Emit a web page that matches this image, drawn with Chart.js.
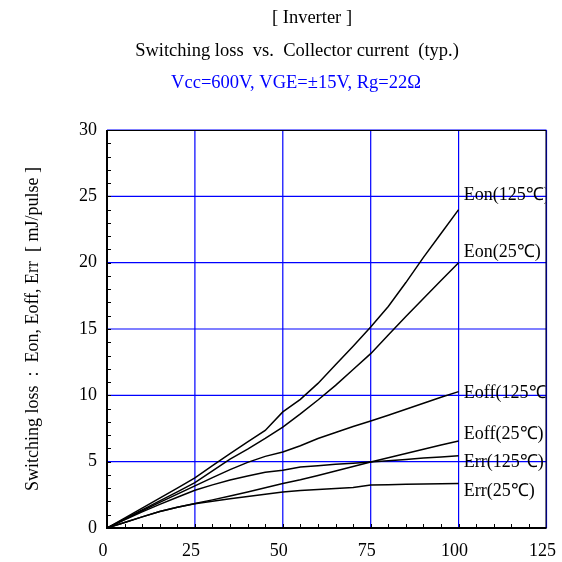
<!DOCTYPE html>
<html>
<head>
<meta charset="utf-8">
<script src="https://cdn.jsdelivr.net/npm/chart.js@4.4.1/dist/chart.umd.min.js"></script>
<style>
  html, body { margin: 0; padding: 0; background: #fff; }
  #wrap { width: 562px; height: 562px; }
</style>
</head>
<body>
<div id="wrap"><canvas id="lossChart"></canvas></div>
<script>
// Collector current [A]
const current = [0, 5, 10, 15, 20, 25, 30, 35, 40, 45, 50, 55, 60, 65, 70, 75, 80, 85, 90, 95, 100];

// Switching loss [mJ/pulse]
const eon125  = [0, 0.75, 1.5, 2.25, 3.0, 3.77, 4.7, 5.6, 6.5, 7.35, 8.75, 9.7, 10.9, 12.3, 13.7, 15.15, 16.7, 18.5, 20.4, 22.2, 24.0];
const eon25   = [0, 0.68, 1.36, 2.04, 2.72, 3.42, 4.3, 5.2, 5.95, 6.75, 7.61, 8.6, 9.65, 10.75, 11.95, 13.14, 14.55, 15.95, 17.3, 18.65, 20.0];
const eoff125 = [0, 0.65, 1.3, 1.93, 2.55, 3.17, 3.8, 4.4, 4.95, 5.4, 5.73, 6.2, 6.75, 7.2, 7.65, 8.06, 8.5, 8.95, 9.4, 9.85, 10.28];
const eoff25  = [0, 0.42, 0.84, 1.24, 1.56, 1.84, 2.12, 2.42, 2.72, 3.03, 3.35, 3.63, 3.95, 4.3, 4.63, 4.97, 5.3, 5.62, 5.94, 6.25, 6.55];
const err125  = [0, 0.62, 1.22, 1.78, 2.32, 2.84, 3.25, 3.62, 3.92, 4.2, 4.35, 4.6, 4.7, 4.8, 4.88, 4.97, 5.07, 5.17, 5.27, 5.36, 5.45];
const err25   = [0, 0.42, 0.84, 1.24, 1.56, 1.82, 2.02, 2.2, 2.38, 2.55, 2.71, 2.82, 2.9, 2.98, 3.06, 3.24, 3.26, 3.29, 3.31, 3.34, 3.36];

const seriesNames = ["Eon(125℃)", "Eon(25℃)", "Eoff(125℃)", "Eoff(25℃)", "Err(125℃)", "Err(25℃)"];
const seriesData = [eon125, eon25, eoff125, eoff25, err125, err25];

// where each curve name sits (value coords)
const labelY = [25.05, 20.8, 10.15, 7.05, 4.95, 2.75];
const labelX = 101.5;

const FONT = "'Liberation Serif', 'Times New Roman', serif";
const BLUE = "#0000ff";

const decorations = {
  id: "decorations",
  beforeDatasetsDraw(chart) {
    const { ctx, chartArea: a, scales: { x, y } } = chart;
    ctx.save();
    ctx.strokeStyle = BLUE;
    ctx.lineWidth = 1.2;
    ctx.beginPath();
    x.ticks.forEach(t => {
      const px = x.getPixelForValue(t.value);
      ctx.moveTo(px, a.top);
      ctx.lineTo(px, a.bottom);
    });
    y.ticks.forEach(t => {
      const py = y.getPixelForValue(t.value);
      ctx.moveTo(a.left, py);
      ctx.lineTo(a.right, py);
    });
    ctx.stroke();
    ctx.restore();
  },
  afterDatasetsDraw(chart) {
    const { ctx, chartArea: a, scales: { x, y } } = chart;
    ctx.save();

    // frame
    ctx.strokeStyle = "#000";
    ctx.lineWidth = 1;
    ctx.beginPath();
    ctx.moveTo(a.left, a.top + 0.5);
    ctx.lineTo(a.right - 0.5, a.top + 0.5);
    ctx.lineTo(a.right - 0.5, a.bottom);
    ctx.stroke();
    ctx.lineWidth = 2;
    ctx.beginPath();
    ctx.moveTo(a.left, a.top);
    ctx.lineTo(a.left, a.bottom);
    ctx.lineTo(a.right, a.bottom);
    ctx.stroke();

    // minor ticks pointing inwards
    ctx.lineWidth = 1;
    ctx.beginPath();
    for (let v = 1; v < 30; v++) {
      const py = Math.round(y.getPixelForValue(v)) + 0.5;
      ctx.moveTo(a.left, py);
      ctx.lineTo(a.left + 4, py);
    }
    for (let v = 5; v < 125; v += 5) {
      const px = Math.round(x.getPixelForValue(v)) + 0.5;
      ctx.moveTo(px, a.bottom);
      ctx.lineTo(px, a.bottom - 4);
    }
    ctx.stroke();

    // curve names, cut off by the right frame
    ctx.save();
    ctx.beginPath();
    ctx.rect(0, 0, a.right - 1, chart.height);
    ctx.clip();
    ctx.fillStyle = "#000";
    ctx.font = "18px " + FONT;
    ctx.textAlign = "left";
    ctx.textBaseline = "middle";
    seriesNames.forEach((name, i) => {
      ctx.fillText(name, x.getPixelForValue(labelX), y.getPixelForValue(labelY[i]));
    });
    ctx.restore();

    // headings
    ctx.textAlign = "center";
    ctx.textBaseline = "middle";
    ctx.font = "18.5px " + FONT;
    ctx.fillStyle = "#000";
    ctx.fillText("[ Inverter ]", 312, 18);
    ctx.fillText("Switching loss  vs.  Collector current  (typ.)", 297, 51);
    ctx.fillStyle = BLUE;
    ctx.fillText("Vcc=600V, VGE=±15V, Rg=22Ω", 296, 83);

    // y axis title
    ctx.fillStyle = "#000";
    ctx.font = "18px " + FONT;
    ctx.translate(33, (a.top + a.bottom) / 2);
    ctx.rotate(-Math.PI / 2);
    ctx.fillText("Switching loss  :  Eon, Eoff, Err  [ mJ/pulse ]", 0, 0);

    ctx.restore();
  }
};

const ctx = document.getElementById("lossChart").getContext("2d");
new Chart(ctx, {
  type: "scatter",
  data: {
    datasets: seriesData.map((vals, i) => ({
      label: seriesNames[i],
      data: current.map((c, j) => ({ x: c, y: vals[j] })),
      showLine: true,
      borderColor: "#000",
      borderWidth: 1.5,
      pointRadius: 0,
      tension: 0,
    })),
  },
  options: {
    responsive: true,
    maintainAspectRatio: false,
    animation: false,
    layout: { padding: { top: 130, right: 15.5, left: 0, bottom: 0 } },
    plugins: {
      legend: { display: false },
      tooltip: { enabled: false },
    },
    scales: {
      x: {
        type: "linear",
        min: 0,
        max: 125,
        ticks: {
          stepSize: 25,
          color: "#000",
          font: { family: FONT, size: 18 },
          padding: 4,
          labelOffset: -4,
          maxRotation: 0,
        },
        grid: { display: false },
        border: { display: false },
        afterFit(s) { s.height = 34; s.paddingLeft = 0; s.paddingRight = 0; },
      },
      y: {
        min: 0,
        max: 30,
        ticks: {
          stepSize: 5,
          color: "#000",
          font: { family: FONT, size: 18 },
          padding: 2,
        },
        grid: { display: false },
        border: { display: false },
        afterFit(s) { s.width = 107; s.paddingTop = 0; s.paddingBottom = 0; },
      },
    },
  },
  plugins: [decorations],
});
</script>
</body>
</html>
